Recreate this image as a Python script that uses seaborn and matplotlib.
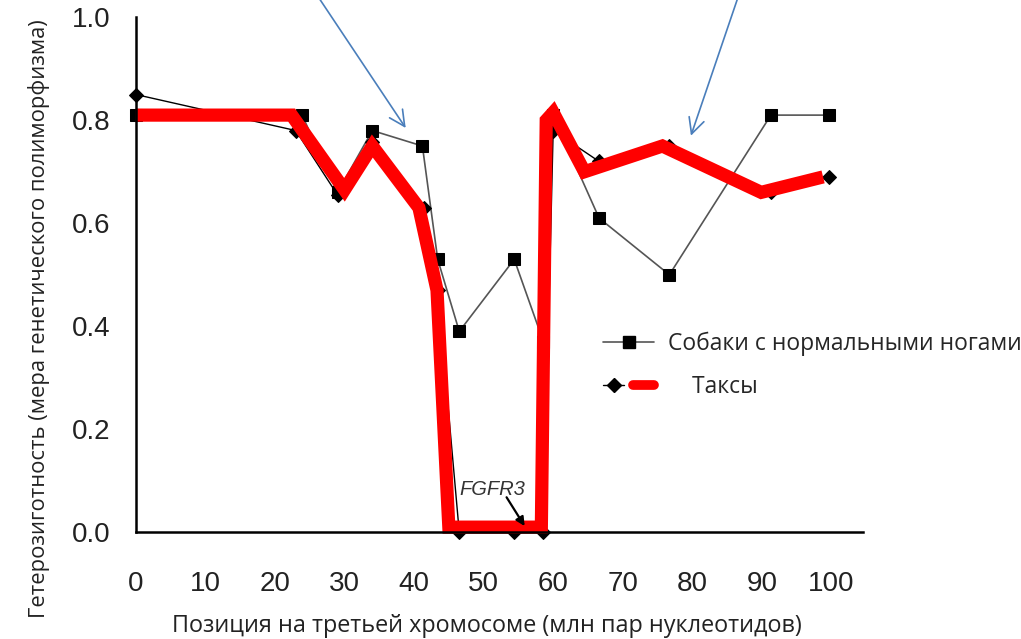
import matplotlib
matplotlib.use("Agg")
import matplotlib.pyplot as plt
from matplotlib.lines import Line2D
from matplotlib.legend_handler import HandlerTuple
import pandas as pd
import seaborn as sns

# heterozygosity along chromosome 3 (Mb)
normal_pos = [0, 23.9, 29.0, 34.0, 41.2, 43.4, 46.5, 54.4, 58.6, 60.0, 66.6, 76.7, 91.3, 99.7]
normal_het = [0.81, 0.81, 0.66, 0.78, 0.75, 0.53, 0.39, 0.53, 0.37, 0.81, 0.61, 0.50, 0.81, 0.81]

dachs_pos = [0, 23.0, 29.0, 34.0, 41.4, 43.4, 46.5, 54.4, 58.6, 60.0, 66.6, 76.7, 91.3, 99.7]
dachs_het = [0.85, 0.78, 0.655, 0.757, 0.63, 0.47, 0.0, 0.0, 0.0, 0.78, 0.72, 0.75, 0.66, 0.69]

# red hand-drawn emphasis over the dachshund curve
red_pos = [0, 22.4, 30.0, 34.0, 40.7, 43.3, 45.0, 58.3, 59.0, 60.0, 64.5, 75.7, 89.9, 98.8]
red_het = [0.81, 0.81, 0.665, 0.75, 0.63, 0.47, 0.01, 0.01, 0.80, 0.815, 0.70, 0.75, 0.66, 0.69]

x_ticks = [0, 10, 20, 30, 40, 50, 60, 70, 80, 90, 100]
y_ticks = [0.0, 0.2, 0.4, 0.6, 0.8, 1.0]

df_norm = pd.DataFrame({'pos': normal_pos, 'het': normal_het})
df_dachs = pd.DataFrame({'pos': dachs_pos, 'het': dachs_het})
df_red = pd.DataFrame({'pos': red_pos, 'het': red_het})

sns.set_style("white")
plt.rcParams['font.family'] = ['Liberation Sans', 'DejaVu Sans']
label_font = ['Open Sans', 'DejaVu Sans']

fig = plt.figure(figsize=(10.21, 6.39), dpi=100)
ax = fig.add_axes([0.133, 0.167, 0.712, 0.806])

sns.lineplot(x='pos', y='het', data=df_norm, color='#555555', lw=1.2, marker='s',
             markersize=9, markerfacecolor='black', markeredgecolor='black', ax=ax, clip_on=False)
sns.lineplot(x='pos', y='het', data=df_dachs, color='black', lw=1.0, marker='D',
             markersize=7, markerfacecolor='black', markeredgecolor='black', ax=ax, clip_on=False)
sns.lineplot(x='pos', y='het', data=df_red, color='#ff0000', lw=9.5, ax=ax, clip_on=False,
             solid_joinstyle='miter', solid_capstyle='butt')

ax.set_xlim(0, 104.5)
ax.set_ylim(0, 1.0)
ax.set_xticks(x_ticks)
ax.set_yticks(y_ticks)
ax.set_xticklabels([str(t) for t in x_ticks])
ax.set_yticklabels([f'{t:.1f}' for t in y_ticks])
ax.tick_params(direction='in', length=7, width=1.5, colors='black', labelsize=20,
               labelcolor='#222222')
ax.tick_params(axis='x', pad=28)
ax.tick_params(axis='y', pad=18)
sns.despine(ax=ax)
for s in ['left', 'bottom']:
    ax.spines[s].set_linewidth(1.8)
    ax.spines[s].set_color('black')

ax.set_xlabel('Позиция на третьей хромосоме (млн пар нуклеотидов)', fontsize=16.8,
              family=label_font, color='#222222')
ax.set_ylabel('Гетерозиготность (мера генетического полиморфизма)', fontsize=15.8,
              family=label_font, color='#222222')
ax.xaxis.set_label_coords(0.483, -0.158)
ax.yaxis.set_label_coords(-0.118, 0.415)

# FGFR3 marker
ax.text(51.2, 0.083, 'FGFR3', fontsize=14.5, style='italic', color='#333333',
        ha='center', va='center')
ax.annotate('', xy=(55.9, 0.012), xytext=(53.3, 0.068),
            arrowprops=dict(arrowstyle='-|>', color='black', lw=1.6, shrinkA=0, shrinkB=0,
                            mutation_scale=13))

# blue callout arrows
for (x0, y0), (x1, y1) in [((26.2, 1.04), (38.8, 0.785)), ((86.6, 1.04), (79.8, 0.77))]:
    ax.annotate('', xy=(x1, y1), xytext=(x0, y0), annotation_clip=False,
                arrowprops=dict(arrowstyle='->', color='#4a7ebb', lw=1.2, shrinkA=0, shrinkB=0,
                                mutation_scale=28))

h_norm = Line2D([], [], color='#555555', lw=1.2, marker='s', markersize=9,
                markerfacecolor='black', markeredgecolor='black')
h_dachs = Line2D([], [], color='black', lw=1.0, marker='D', markersize=7,
                 markerfacecolor='black', markeredgecolor='black')
h_red = Line2D([], [], color='#ff0000', lw=7)
ax.legend([h_norm, (h_dachs, h_red)], ['Собаки с нормальными ногами', '    Таксы'],
          handler_map={tuple: HandlerTuple(ndivide=None)}, frameon=False,
          loc='upper left', bbox_to_anchor=(0.615, 0.43), handlelength=2.2,
          handletextpad=0.6, labelspacing=0.85,
          prop={'family': label_font, 'size': 16.5})

fig.savefig('out.png', dpi=100, facecolor='white')
